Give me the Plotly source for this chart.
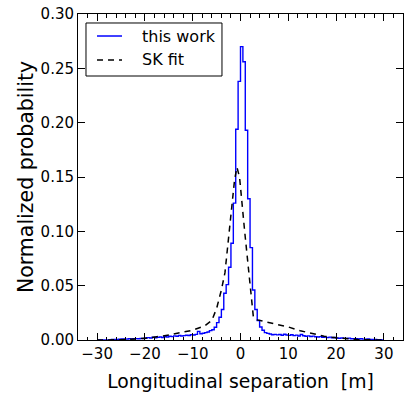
import plotly.graph_objects as go

# histogram of longitudinal separation, 0.5 m bins from -30 to 30 m
bin_start = -30.0
bin_width = 0.5
this_work = [
    0, 0, 0, 0, 0, 0,
    0.0004, 0.0006, 0.0005, 0.0008,
    0.0009, 0.0010, 0.0008, 0.0011, 0.0010, 0.0012,
    0.0013, 0.0011, 0.0015, 0.0014,
    0.0018, 0.0022, 0.0019, 0.0025, 0.0021, 0.0024,
    0.0027, 0.0023, 0.0030, 0.0028, 0.0034, 0.0031,
    0.0038, 0.0035, 0.0041, 0.0037,
    0.0040, 0.0044, 0.0042, 0.0048,
    0.0046, 0.0052, 0.0079, 0.0058,
    0.0062, 0.0068, 0.0073, 0.0086,
    0.0094, 0.0118,
    0.016, 0.021,
    0.028, 0.043,
    0.051, 0.067,
    0.089, 0.126,
    0.194, 0.238,
    0.270, 0.256,
    0.193, 0.130,
    0.085, 0.046,
    0.028, 0.018,
    0.012, 0.009,
    0.0068, 0.0061,
    0.0055, 0.0049, 0.0052, 0.0047,
    0.0050, 0.0044, 0.0053, 0.0046,
    0.0043, 0.0048, 0.0040, 0.0045,
    0.0037, 0.0051, 0.0039, 0.0035,
    0.0038, 0.0032, 0.0036, 0.0030,
    0.0027, 0.0031, 0.0025, 0.0028,
    0.0022, 0.0026, 0.0020, 0.0023,
    0.0019, 0.0016, 0.0020, 0.0015,
    0.0014, 0.0017, 0.0012, 0.0013,
    0.0011, 0.0009, 0.0012, 0.0008,
    0.0007, 0.0009, 0.0006, 0.0005,
    0.0004, 0.0003, 0.0002, 0.0,
]

# SK fit curve
sk_x = [-30, -25, -20, -17.5, -15, -12.5, -10, -7.5, -6, -5, -4, -3.25, -2.65,
        -1.95, -1.25, -0.75, -0.2, 0.85, 1.9, 2.7, 3.5, 5, 7.5, 10, 12.5, 15,
        17.5, 20, 22.5, 25, 30]
sk_y = [0.0, 0.0002, 0.0015, 0.003, 0.0045, 0.007, 0.009, 0.013, 0.018, 0.029,
        0.046, 0.062, 0.089, 0.12, 0.147, 0.159, 0.15, 0.101, 0.052, 0.021,
        0.0185, 0.017, 0.0145, 0.012, 0.0085, 0.006, 0.0035, 0.002, 0.001,
        0.0003, 0.0]

x_ticks = [-30, -20, -10, 0, 10, 20, 30]
y_ticks = [0.00, 0.05, 0.10, 0.15, 0.20, 0.25, 0.30]
legend_names = ["this work", "SK fit"]

blue = "#0000ff"
dash = "6px,5px"

edges = [bin_start + bin_width * i for i in range(len(this_work) + 1)]
step_x = [edges[0]] + edges[:-1] + [edges[-1], edges[-1]]
step_y = [0] + this_work + [this_work[-1], 0]

fig = go.Figure()
fig.add_trace(go.Scatter(
    x=step_x, y=step_y, mode="lines", name=legend_names[0],
    line=dict(color=blue, width=1.4, shape="hv"), showlegend=False,
))
fig.add_trace(go.Scatter(
    x=sk_x, y=sk_y, mode="lines", name=legend_names[1],
    line=dict(color="black", width=1.5, dash=dash), showlegend=False,
))

axis_common = dict(
    showline=True, linecolor="black", linewidth=1, mirror="ticks",
    ticks="inside", tickcolor="black", ticklen=7, tickwidth=1,
    showgrid=False, zeroline=False, automargin=False,
    ticklabeloverflow="allow",
    tickfont=dict(size=15, color="black"),
)

fig.update_xaxes(
    range=[-34, 34], tickvals=x_ticks,
    minor=dict(dtick=2, ticks="inside", ticklen=3.5, tickcolor="black", showgrid=False),
    title=dict(text="Longitudinal separation  [m]", font=dict(size=18.8, color="black"), standoff=12),
    **axis_common,
)
fig.update_yaxes(
    range=[0, 0.30], tickvals=y_ticks, tickformat=".2f",
    title=dict(text="Normalized probability", font=dict(size=20.5, color="black"), standoff=1),
    **axis_common,
)

# matplotlib-style boxed legend in the upper left corner
fig.add_shape(type="rect", xref="paper", yref="paper",
              x0=0.0246, x1=0.443, y0=0.8098, y1=0.9724,
              line=dict(color="black", width=1), fillcolor="white", layer="above")
rows = [(0.9325, blue, "solid"), (0.8589, "black", dash)]
for name, (yy, col, ds) in zip(legend_names, rows):
    fig.add_shape(type="line", xref="paper", yref="paper",
                  x0=0.0585, x1=0.1354, y0=yy, y1=yy,
                  line=dict(color=col, width=1.5, dash=ds), layer="above")
    fig.add_annotation(x=0.1908, y=yy, xref="paper", yref="paper", text=name,
                       showarrow=False, xanchor="left", yanchor="middle",
                       font=dict(size=16, color="black"))

fig.update_layout(
    width=415, height=395,
    margin=dict(l=78, r=12, t=14, b=55),
    plot_bgcolor="white", paper_bgcolor="white",
    font=dict(family="DejaVu Sans", color="black"),
    showlegend=False,
)

# drop the default 8px body margin so the figure sits at the window corner
fig.write_html("out.html", config={"displayModeBar": False},
               post_script="document.body.style.margin='0';")
